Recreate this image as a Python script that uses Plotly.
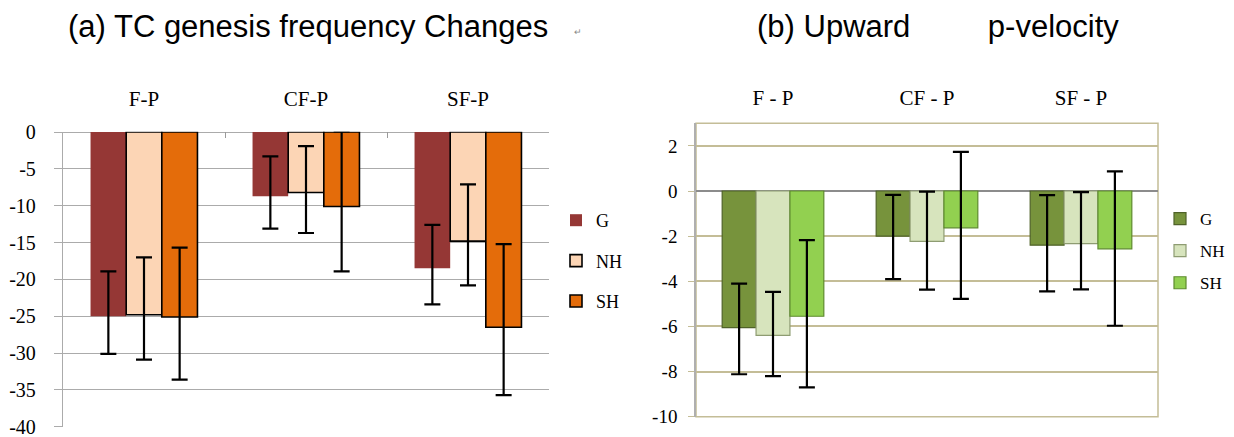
import plotly.graph_objects as go

# ---------------- data ----------------
tc_categories = ["F-P", "CF-P", "SF-P"]
tc_G = [-25.0, -8.7, -18.5]
tc_G_hi = [-18.9, -3.3, -12.6]
tc_G_lo = [-30.1, -13.1, -23.4]
tc_NH = [-24.8, -8.2, -14.8]
tc_NH_hi = [-17.0, -1.9, -7.1]
tc_NH_lo = [-30.9, -13.7, -20.8]
tc_SH = [-25.1, -10.1, -26.5]
tc_SH_hi = [-15.7, 0.1, -15.2]
tc_SH_lo = [-33.6, -18.9, -35.7]
tc_yticks = [0, -5, -10, -15, -20, -25, -30, -35, -40]

w_categories = ["F - P", "CF - P", "SF - P"]
w_G = [-6.05, -2.0, -2.4]
w_G_hi = [-4.1, -0.17, -0.18]
w_G_lo = [-8.12, -3.9, -4.45]
w_NH = [-6.4, -2.23, -2.33]
w_NH_hi = [-4.47, -0.03, -0.05]
w_NH_lo = [-8.2, -4.37, -4.36]
w_SH = [-5.55, -1.63, -2.56]
w_SH_hi = [-2.18, 1.73, 0.87]
w_SH_lo = [-8.7, -4.78, -5.97]
w_yticks = [2, 0, -2, -4, -6, -8, -10]

series_names = ["G", "NH", "SH"]

title_a = "(a) TC genesis frequency Changes"
title_b = "(b) Upward" + "\u00a0" * 9 + "p-velocity"

# ---------------- styling ----------------
W, H = 1218, 437
OFF = 8  # page offset of the figure (body margin)
SERIF = "Times New Roman, Liberation Serif, serif"
SANS = "Arial, Liberation Sans, sans-serif"


def fx(px):
    return (px - OFF) / W


def fy(py):
    return 1 - (py - OFF) / H


tc_fill = ["#953735", "#FCD5B5", "#E46C0A"]
tc_line = ["#953735", "#000000", "#000000"]
tc_lw = [0, 1.6, 1.6]

w_fill = ["#77933C", "#D7E4BD", "#92D050"]
w_line = ["#4F6228", "#8E9C72", "#5E8A2E"]
TAN = "#C4BD97"


def err(vals, hi, lo):
    up = [h - v for h, v in zip(hi, vals)]
    dn = [v - l for v, l in zip(vals, lo)]
    return dict(type="data", symmetric=False, array=up, arrayminus=dn,
                color="black", thickness=2.2, width=8)


fig = go.Figure()

tc_data = [(tc_G, tc_G_hi, tc_G_lo), (tc_NH, tc_NH_hi, tc_NH_lo), (tc_SH, tc_SH_hi, tc_SH_lo)]
for i, (vals, hi, lo) in enumerate(tc_data):
    fig.add_trace(go.Bar(
        x=tc_categories, y=vals, name=series_names[i],
        marker=dict(color=tc_fill[i], line=dict(color=tc_line[i], width=tc_lw[i])),
        error_y=err(vals, hi, lo),
        xaxis="x", yaxis="y", legend="legend", legendgroup="a" + str(i),
        offsetgroup=str(i),
    ))

w_data = [(w_G, w_G_hi, w_G_lo), (w_NH, w_NH_hi, w_NH_lo), (w_SH, w_SH_hi, w_SH_lo)]
for i, (vals, hi, lo) in enumerate(w_data):
    fig.add_trace(go.Bar(
        x=w_categories, y=vals, name=series_names[i],
        marker=dict(color=w_fill[i], line=dict(color=w_line[i], width=1.2)),
        error_y=err(vals, hi, lo),
        xaxis="x2", yaxis="y2", legend="legend2", legendgroup="b" + str(i),
        offsetgroup=str(i),
    ))

# plot-area page-pixel geometry
aL, aR, aT, aB = 63, 549, 131.7, 426.7
bL, bR, bT, bB = 696, 1158, 123.3, 416.7

fig.update_layout(
    width=W, height=H,
    margin=dict(l=0, r=0, t=0, b=0, autoexpand=False),
    paper_bgcolor="white", plot_bgcolor="white",
    barmode="group", bargap=0.34, bargroupgap=0,
    font=dict(family=SERIF, color="black", size=18),
    xaxis=dict(domain=[fx(aL), fx(aR)], anchor="y", side="top", automargin=False,
               showline=False, showgrid=False,
               ticks="inside", tickson="boundaries", ticklen=6, tickcolor="#9A9A9A",
               tickfont=dict(family=SERIF, size=21), ticklabelstandoff=21),
    yaxis=dict(domain=[fy(aB), fy(aT)], anchor="x", range=[-40, 0.05],
               automargin=False,
               tickvals=tc_yticks, ticktext=[str(t) for t in tc_yticks],
               showgrid=True, gridcolor="#ABABAB", gridwidth=1.3,
               showline=True, linecolor="#ABABAB", linewidth=1.3,
               ticks="outside", ticklen=8, tickcolor="#ABABAB",
               zeroline=True, zerolinecolor="#ABABAB", zerolinewidth=1.3,
               tickfont=dict(family=SERIF, size=20), ticklabelstandoff=14),
    xaxis2=dict(domain=[fx(bL), fx(bR)], anchor="y2", side="top", automargin=False,
                showline=False, showgrid=False, ticks="",
                tickfont=dict(family=SERIF, size=21), ticklabelstandoff=13),
    yaxis2=dict(domain=[fy(bB), fy(bT)], anchor="x2", range=[-10, 3],
                automargin=False,
                tickvals=w_yticks, ticktext=[str(t) for t in w_yticks],
                showgrid=True, gridcolor=TAN, gridwidth=1.5,
                showline=True, mirror=False, linecolor="#AFAFAF", linewidth=1.5,
                ticks="outside", ticklen=6, tickcolor=TAN,
                zeroline=True, zerolinecolor="#8C8C8C", zerolinewidth=2,
                tickfont=dict(family=SERIF, size=19), ticklabelstandoff=7),
    shapes=[dict(type="rect", xref="x2 domain", yref="y2 domain",
                 x0=0, x1=1, y0=0, y1=1, line=dict(color=TAN, width=1.5),
                 fillcolor="rgba(0,0,0,0)", layer="below")],
    legend=dict(x=fx(556), y=fy(202), xanchor="left", yanchor="top",
                font=dict(family=SERIF, size=18), bgcolor="rgba(0,0,0,0)",
                tracegroupgap=14, traceorder="grouped"),
    legend2=dict(x=fx(1160), y=fy(201), xanchor="left", yanchor="top",
                 font=dict(family=SERIF, size=17), bgcolor="rgba(0,0,0,0)",
                 tracegroupgap=7, traceorder="grouped"),
    showlegend=True,
    annotations=[
        dict(text=title_a, x=fx(66), y=fy(27), xref="paper", yref="paper",
             xanchor="left", yanchor="middle", showarrow=False,
             font=dict(family=SANS, size=31, color="black")),
        dict(text="\u21b5", x=fx(572), y=fy(32), xref="paper", yref="paper",
             xanchor="left", yanchor="middle", showarrow=False,
             font=dict(family=SANS, size=9, color="#888888")),
        dict(text=title_b, x=fx(755), y=fy(27), xref="paper", yref="paper",
             xanchor="left", yanchor="middle", showarrow=False,
             font=dict(family=SANS, size=31, color="black")),
    ],
)

fig.write_html("out.html")
